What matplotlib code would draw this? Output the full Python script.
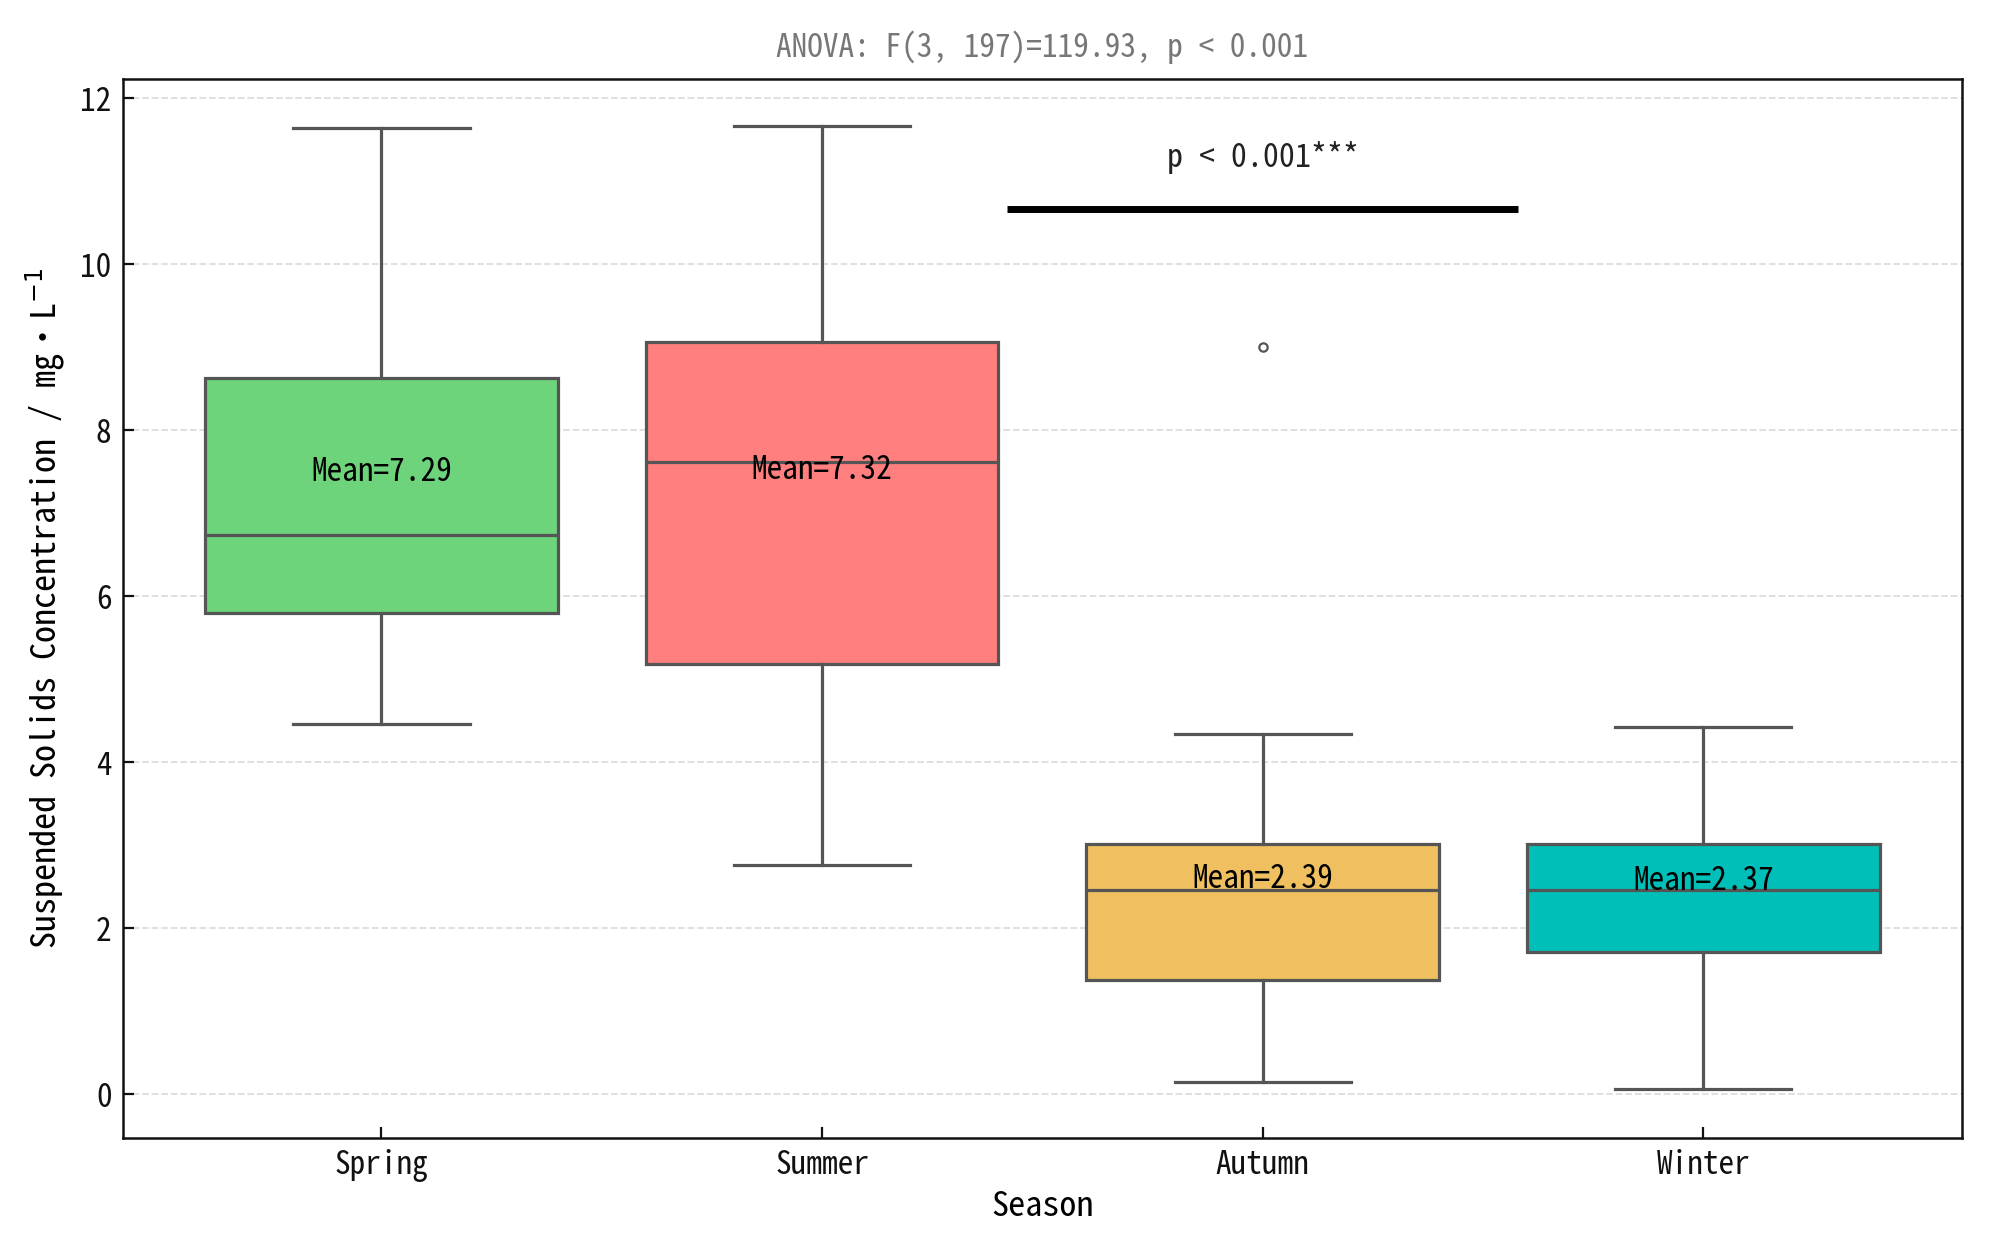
import numpy as np
import matplotlib
matplotlib.use('Agg')
import matplotlib.pyplot as plt

plt.rcParams['font.family'] = ['Noto Sans Mono CJK SC', 'Noto Sans CJK SC', 'DejaVu Sans']
plt.rcParams['mathtext.fontset'] = 'dejavusans'

# данные
seasons = ['Spring', 'Summer', 'Autumn', 'Winter']
whis_low = [4.46, 2.76, 0.14, 0.06]
q1 = [5.80, 5.18, 1.37, 1.71]
medians = [6.73, 7.62, 2.46, 2.46]
q3 = [8.63, 9.06, 3.01, 3.01]
whis_high = [11.64, 11.66, 4.34, 4.42]
means = [7.29, 7.32, 2.39, 2.37]
fliers = [[], [], [9.0], []]
colors = ['#6DD47B', '#FF7F7F', '#F0C060', '#00BFB8']

anova_text = 'ANOVA: F(3, 197)=119.93, p < 0.001'
sig_text = 'p < 0.001***'
sig_y = 10.66
sig_x = (1.42, 2.58)

fig = plt.figure(figsize=(20.04, 12.54), dpi=100)
ax = fig.add_axes([0.0613, 0.0925, 0.9177, 0.8445])

stats = []
for i in range(len(seasons)):
    stats.append(dict(label=seasons[i], whislo=whis_low[i], q1=q1[i], med=medians[i],
                      q3=q3[i], whishi=whis_high[i], mean=means[i], fliers=fliers[i]))

edge = '#555555'
bp = ax.bxp(stats, positions=np.arange(len(seasons)), widths=0.8, patch_artist=True,
            showfliers=True, manage_ticks=False,
            boxprops=dict(edgecolor=edge, linewidth=2.3),
            whiskerprops=dict(color=edge, linewidth=2.3),
            capprops=dict(color=edge, linewidth=2.3),
            medianprops=dict(color=edge, linewidth=2.3),
            flierprops=dict(marker='o', markerfacecolor='none', markeredgecolor=edge,
                            markersize=6, markeredgewidth=1.6))
for patch, c in zip(bp['boxes'], colors):
    patch.set_facecolor(c)
for b in bp['boxes'] + bp['whiskers'] + bp['caps'] + bp['medians'] + bp['fliers']:
    b.set_zorder(3)

# подписи средних
for i, m in enumerate(means):
    ax.text(i, m + 0.2, f'Mean={m:.2f}', ha='center', va='center', fontsize=22.5,
            color='black', zorder=5)

# линия значимости
ax.hlines(sig_y, sig_x[0], sig_x[1], color='black', linewidth=5, zorder=4)
ax.text((sig_x[0] + sig_x[1]) / 2, sig_y + 0.62, sig_text, ha='center', va='center',
        fontsize=23, color='#222222')

ax.set_xlim(-0.587, 3.587)
ax.set_ylim(-0.53, 12.23)
ax.set_xticks(np.arange(len(seasons)))
ax.set_xticklabels(seasons)
ax.set_yticks([0, 2, 4, 6, 8, 10, 12])

ax.yaxis.grid(True, linestyle='--', color='#DDDDDD', linewidth=1.3, zorder=0)
ax.set_axisbelow(True)

ax.tick_params(axis='both', direction='in', length=8, width=1.6, labelsize=22.5,
               colors='#111111', pad=8)
for s in ax.spines.values():
    s.set_linewidth(1.8)
    s.set_color('#111111')

ax.set_xlabel('Season', fontsize=24.5, labelpad=6)
ax.set_ylabel('Suspended Solids Concentration / mg·L$^{-1}$', fontsize=24.5, labelpad=10)
ax.set_title(anova_text, fontsize=22.5, color='#777777', pad=16)

plt.savefig('out.png', dpi=100)
